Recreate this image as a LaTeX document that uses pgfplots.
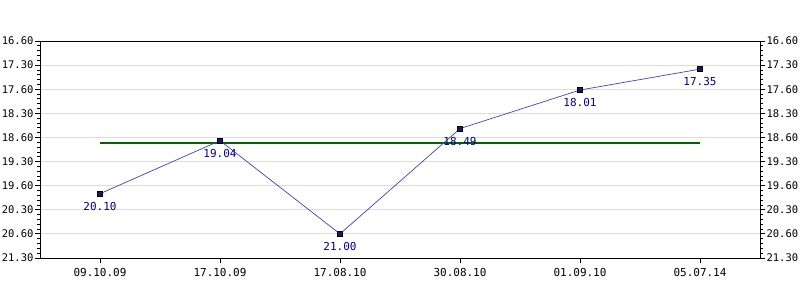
\documentclass[border=0pt]{standalone}
\usepackage{pgfplots}
\pgfplotsset{compat=1.18}
\usepackage{fontspec}
\setmainfont{DejaVu Sans Mono}
\definecolor{lineblue}{RGB}{64,64,200}
\definecolor{labblue}{RGB}{0,0,150}
\definecolor{avggreen}{RGB}{0,100,0}
\definecolor{gridgray}{RGB}{220,220,220}
\begin{document}
\begin{tikzpicture}
\useasboundingbox (-40pt,-42pt) rectangle (760pt,258pt);
\pgfplotsset{
  common/.style={
    scale only axis, width=720pt, height=217pt,
    at={(0pt,0pt)}, anchor=south west,
    xmin=-0.5, xmax=5.5, ymin=17, ymax=21.5, y dir=reverse,
    ytick={17,17.5,18,18.5,19,19.5,20,20.5,21,21.5},
    yticklabels={16.60,17.30,17.60,18.30,18.60,19.30,19.60,20.30,20.60,21.30},
    minor y tick num=4,
    tick align=outside,
    major tick length=5pt, minor tick length=3pt,
    tick style={black, line width=0.8pt},
    ticklabel style={font=\fontsize{11}{12}\selectfont, text=black},
    yticklabel style={font=\fontsize{10.5}{12}\selectfont},
    /pgf/number format/assume math mode=true,
    axis line style={black, line width=0.9pt},
  }
}
\begin{axis}[common,
  axis y line*=left, axis x line*=bottom,
  xtick={0,1,2,3,4,5},
  xticklabels={09.10.09,17.10.09,17.08.10,30.08.10,01.09.10,05.07.14},
  ymajorgrids, grid style={gridgray, line width=0.8pt},
  xtick pos=bottom, ytick pos=left,
  yticklabel style={xshift=2pt},
  xticklabel style={yshift=-2pt},
]
\addplot[avggreen, line width=2pt] coordinates {(0,19.108) (5,19.108)};
\addplot[lineblue, line width=0.7pt, mark=square*,
  mark options={fill=black!70!blue!90, draw=black, line width=0.4pt, mark size=2.5pt},
  nodes near coords, point meta=explicit symbolic,
  nodes near coords style={anchor=north, yshift=-5pt, text=labblue, font=\fontsize{11}{12}\selectfont}]
 table[meta=lab]{
x y lab
0 20.1667 20.10
1 19.0667 19.04
2 21.0000 21.00
3 18.8167 18.49
4 18.0167 18.01
5 17.5833 17.35
};
\end{axis}
\begin{axis}[common,
  axis y line*=right, axis x line*=top,
  xtick=\empty, ytick pos=right,
  yticklabel style={xshift=-2pt},
]
\addplot[draw=none] coordinates {(0,19)};
\end{axis}
\end{tikzpicture}
\end{document}
